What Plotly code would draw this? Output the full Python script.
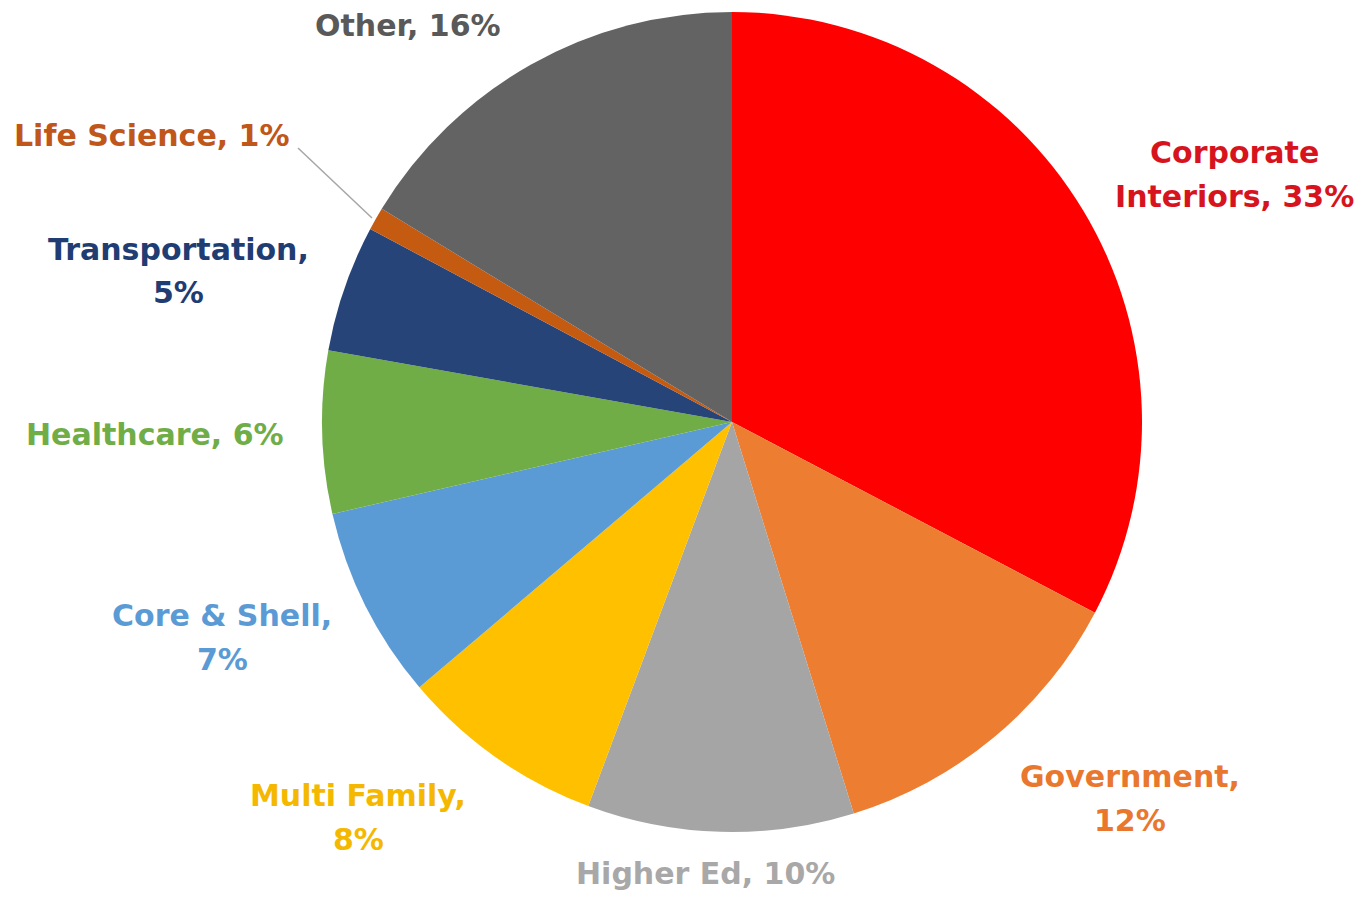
import plotly.graph_objects as go

categories = ["Corporate Interiors", "Government", "Higher Ed", "Multi Family",
              "Core & Shell", "Healthcare", "Transportation", "Life Science", "Other"]
values = [32.7, 12.5, 10.5, 8.1, 7.6, 6.4, 5.0, 0.9, 16.3]
shown_pct = ["33%", "12%", "10%", "8%", "7%", "6%", "5%", "1%", "16%"]

slice_colors = ["#FF0000", "#ED7D31", "#A5A5A5", "#FFC000", "#5B9BD5",
                "#70AD47", "#264478", "#C55A11", "#636363"]
label_colors = ["#D7141E", "#E9772E", "#A8A8A8", "#F5B800", "#5B9BD5",
                "#70AD47", "#1F3C73", "#C0561A", "#595959"]
# label text layout: line breaks and page placement (style only)
label_lines = [["Corporate", "Interiors, 33%"], ["Government,", "12%"], ["Higher Ed, 10%"],
               ["Multi Family,", "8%"], ["Core & Shell,", "7%"], ["Healthcare, 6%"],
               ["Transportation,", "5%"], ["Life Science, 1%"], ["Other, 16%"]]
label_pos = [(1234, 174), (1130, 798), (705, 873), (358, 817), (222, 637),
             (155, 434), (178, 271), (152, 135), (408, 26)]

W, H = 1370, 902
OFF = 8  # page offset of the rendered figure
cx, cy, r = 732 - OFF, 422 - OFF, 410


def px(x):
    return (x - OFF) / W


def py(y):
    return 1 - (y - OFF) / H


fig = go.Figure(go.Pie(
    labels=categories, values=values, sort=False, direction="clockwise",
    rotation=0, marker=dict(colors=slice_colors, line=dict(width=0)),
    textinfo="none", hoverinfo="label+percent", showlegend=False,
    domain=dict(x=[(cx - r) / W, (cx + r) / W], y=[1 - (cy + r) / H, 1 - (cy - r) / H]),
))

for lines, (x, y), col in zip(label_lines, label_pos, label_colors):
    n = len(lines)
    gap = 44
    for i, t in enumerate(lines):
        yy = y + (i - (n - 1) / 2) * gap
        fig.add_annotation(x=px(x), y=py(yy), xref="paper", yref="paper",
                           text=t, showarrow=False, xanchor="center", yanchor="middle",
                           borderpad=0,
                           font=dict(family="DejaVu Sans", size=30, color=col, weight="bold"))

# leader line for Life Science
fig.add_shape(type="line", xref="paper", yref="paper",
              x0=px(298), y0=py(148), x1=px(372), y1=py(218),
              line=dict(color="#A6A6A6", width=1.5))

fig.update_layout(width=W, height=H, margin=dict(l=0, r=0, t=0, b=0),
                  paper_bgcolor="white", plot_bgcolor="white")
fig.write_html("out.html")
